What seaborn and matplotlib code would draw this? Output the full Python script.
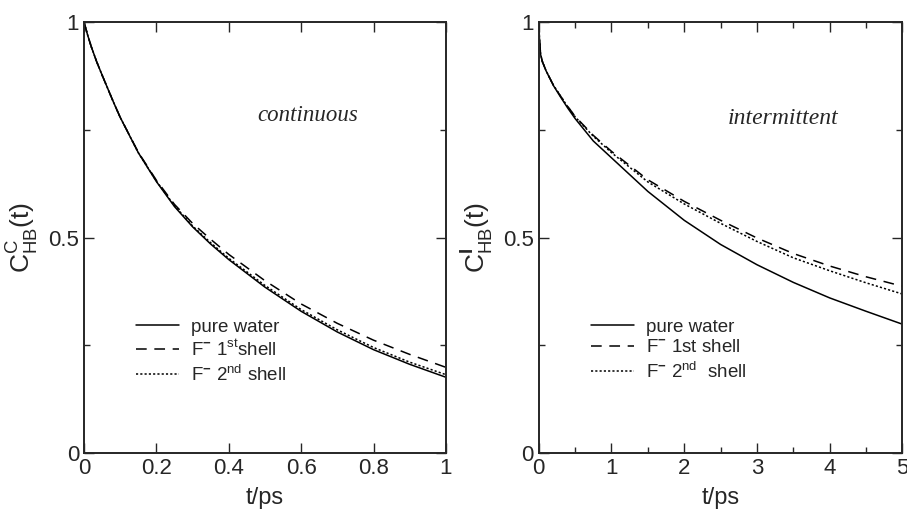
import matplotlib
matplotlib.use("Agg")
import matplotlib.pyplot as plt
from matplotlib.ticker import MultipleLocator
import seaborn as sns

# ==========================================
# data
# ==========================================
t_cont = [0, 0.01, 0.02, 0.035, 0.05, 0.08, 0.1, 0.15, 0.2, 0.25, 0.3, 0.35, 0.4, 0.5, 0.6, 0.7, 0.8, 0.9, 1.0]
cont_pure = [1.0, 0.970, 0.943, 0.908, 0.877, 0.817, 0.779, 0.697, 0.63, 0.572, 0.525, 0.485, 0.449, 0.385, 0.329, 0.281, 0.24, 0.206, 0.176]
cont_first = [1.0, 0.970, 0.943, 0.908, 0.877, 0.817, 0.779, 0.698, 0.633, 0.577, 0.533, 0.496, 0.461, 0.400, 0.346, 0.301, 0.262, 0.229, 0.199]
cont_second = [1.0, 0.970, 0.943, 0.908, 0.877, 0.817, 0.779, 0.697, 0.631, 0.574, 0.527, 0.488, 0.452, 0.389, 0.333, 0.286, 0.245, 0.211, 0.182]

t_int = [0, 0.01, 0.025, 0.05, 0.1, 0.2, 0.3, 0.4, 0.5, 0.75, 1.0, 1.5, 2.0, 2.5, 3.0, 3.5, 4.0, 4.5, 5.0]
int_pure = [1.0, 0.96, 0.925, 0.908, 0.887, 0.853, 0.826, 0.80, 0.776, 0.724, 0.685, 0.607, 0.54, 0.484, 0.437, 0.396, 0.36, 0.329, 0.299]
int_first = [1.0, 0.96, 0.925, 0.908, 0.887, 0.854, 0.828, 0.804, 0.781, 0.737, 0.700, 0.634, 0.584, 0.540, 0.499, 0.463, 0.434, 0.409, 0.387]
int_second = [1.0, 0.96, 0.925, 0.908, 0.887, 0.854, 0.828, 0.803, 0.780, 0.735, 0.697, 0.629, 0.578, 0.533, 0.491, 0.453, 0.423, 0.395, 0.369]

labels_cont = ["pure water", r"F$^{\mathbf{-}}$ 1$^{\mathrm{st}}$shell", r"F$^{\mathbf{-}}$ 2$^{\mathrm{nd}}$ shell"]
labels_int = ["pure water", r"F$^{\mathbf{-}}$ 1st shell", r"F$^{\mathbf{-}}$ 2$^{\mathrm{nd}}$  shell"]
styles = ["-", (0, (7, 5)), (0, (1.4, 1.4))]

sns.set_style("ticks")
plt.rcParams["font.family"] = ["Liberation Sans", "DejaVu Sans"]
plt.rcParams["mathtext.fontset"] = "custom"
plt.rcParams["mathtext.rm"] = "Liberation Sans"
plt.rcParams["mathtext.bf"] = "Liberation Sans:bold"

fig = plt.figure(figsize=(9.07, 5.12), dpi=100)
ax1 = fig.add_axes([0.0926, 0.115, 0.399, 0.842])
ax2 = fig.add_axes([0.594, 0.115, 0.401, 0.842])


def draw(ax, t, series, labels):
    for y, lab, ls in zip(series, labels, styles):
        sns.lineplot(x=t, y=y, ax=ax, color="black", linewidth=1.1,
                     linestyle=ls, label=lab, estimator=None, sort=False)
    ax.set_ylim(0, 1)
    ax.yaxis.set_major_locator(MultipleLocator(0.5))
    ax.yaxis.set_minor_locator(MultipleLocator(0.25))
    ax.yaxis.set_major_formatter(plt.FuncFormatter(lambda v, p: "%g" % v))
    ax.tick_params(which="both", direction="in", top=True, right=True,
                   labelsize=16, width=1.0)
    ax.tick_params(which="major", length=7)
    ax.tick_params(which="minor", length=4)
    for s in ax.spines.values():
        s.set_linewidth(1.4)
    ax.set_xlabel("t/ps", fontsize=17, labelpad=6)
    ax.legend(loc="upper left", bbox_to_anchor=(0.108, 0.342),
              frameon=False, fontsize=13.5, handlelength=2.3,
              handletextpad=0.6, labelspacing=0.2, borderpad=0.2)


draw(ax1, t_cont, [cont_pure, cont_first, cont_second], labels_cont)
ax1.set_xlim(0, 1)
ax1.xaxis.set_major_locator(MultipleLocator(0.2))
ax1.xaxis.set_major_formatter(plt.FuncFormatter(lambda v, p: "%g" % v))
ax1.set_ylabel(r"C$^{\mathrm{C}}_{\mathrm{HB}}$(t)", fontsize=19, labelpad=6)
ax1.text(0.617, 0.784, "continuous", transform=ax1.transAxes, ha="center",
         va="center", fontsize=16.5, style="italic", family="Liberation Serif")

draw(ax2, t_int, [int_pure, int_first, int_second], labels_int)
ax2.set_xlim(0, 5)
ax2.xaxis.set_major_locator(MultipleLocator(1))
ax2.xaxis.set_minor_locator(MultipleLocator(0.5))
ax2.set_ylabel(r"C$^{\mathbf{I}}_{\mathrm{HB}}$(t)", fontsize=19, labelpad=6)
ax2.text(0.673, 0.777, "intermittent", transform=ax2.transAxes, ha="center",
         va="center", fontsize=17, style="italic", family="Liberation Serif")

fig.savefig("out.png", dpi=100)
